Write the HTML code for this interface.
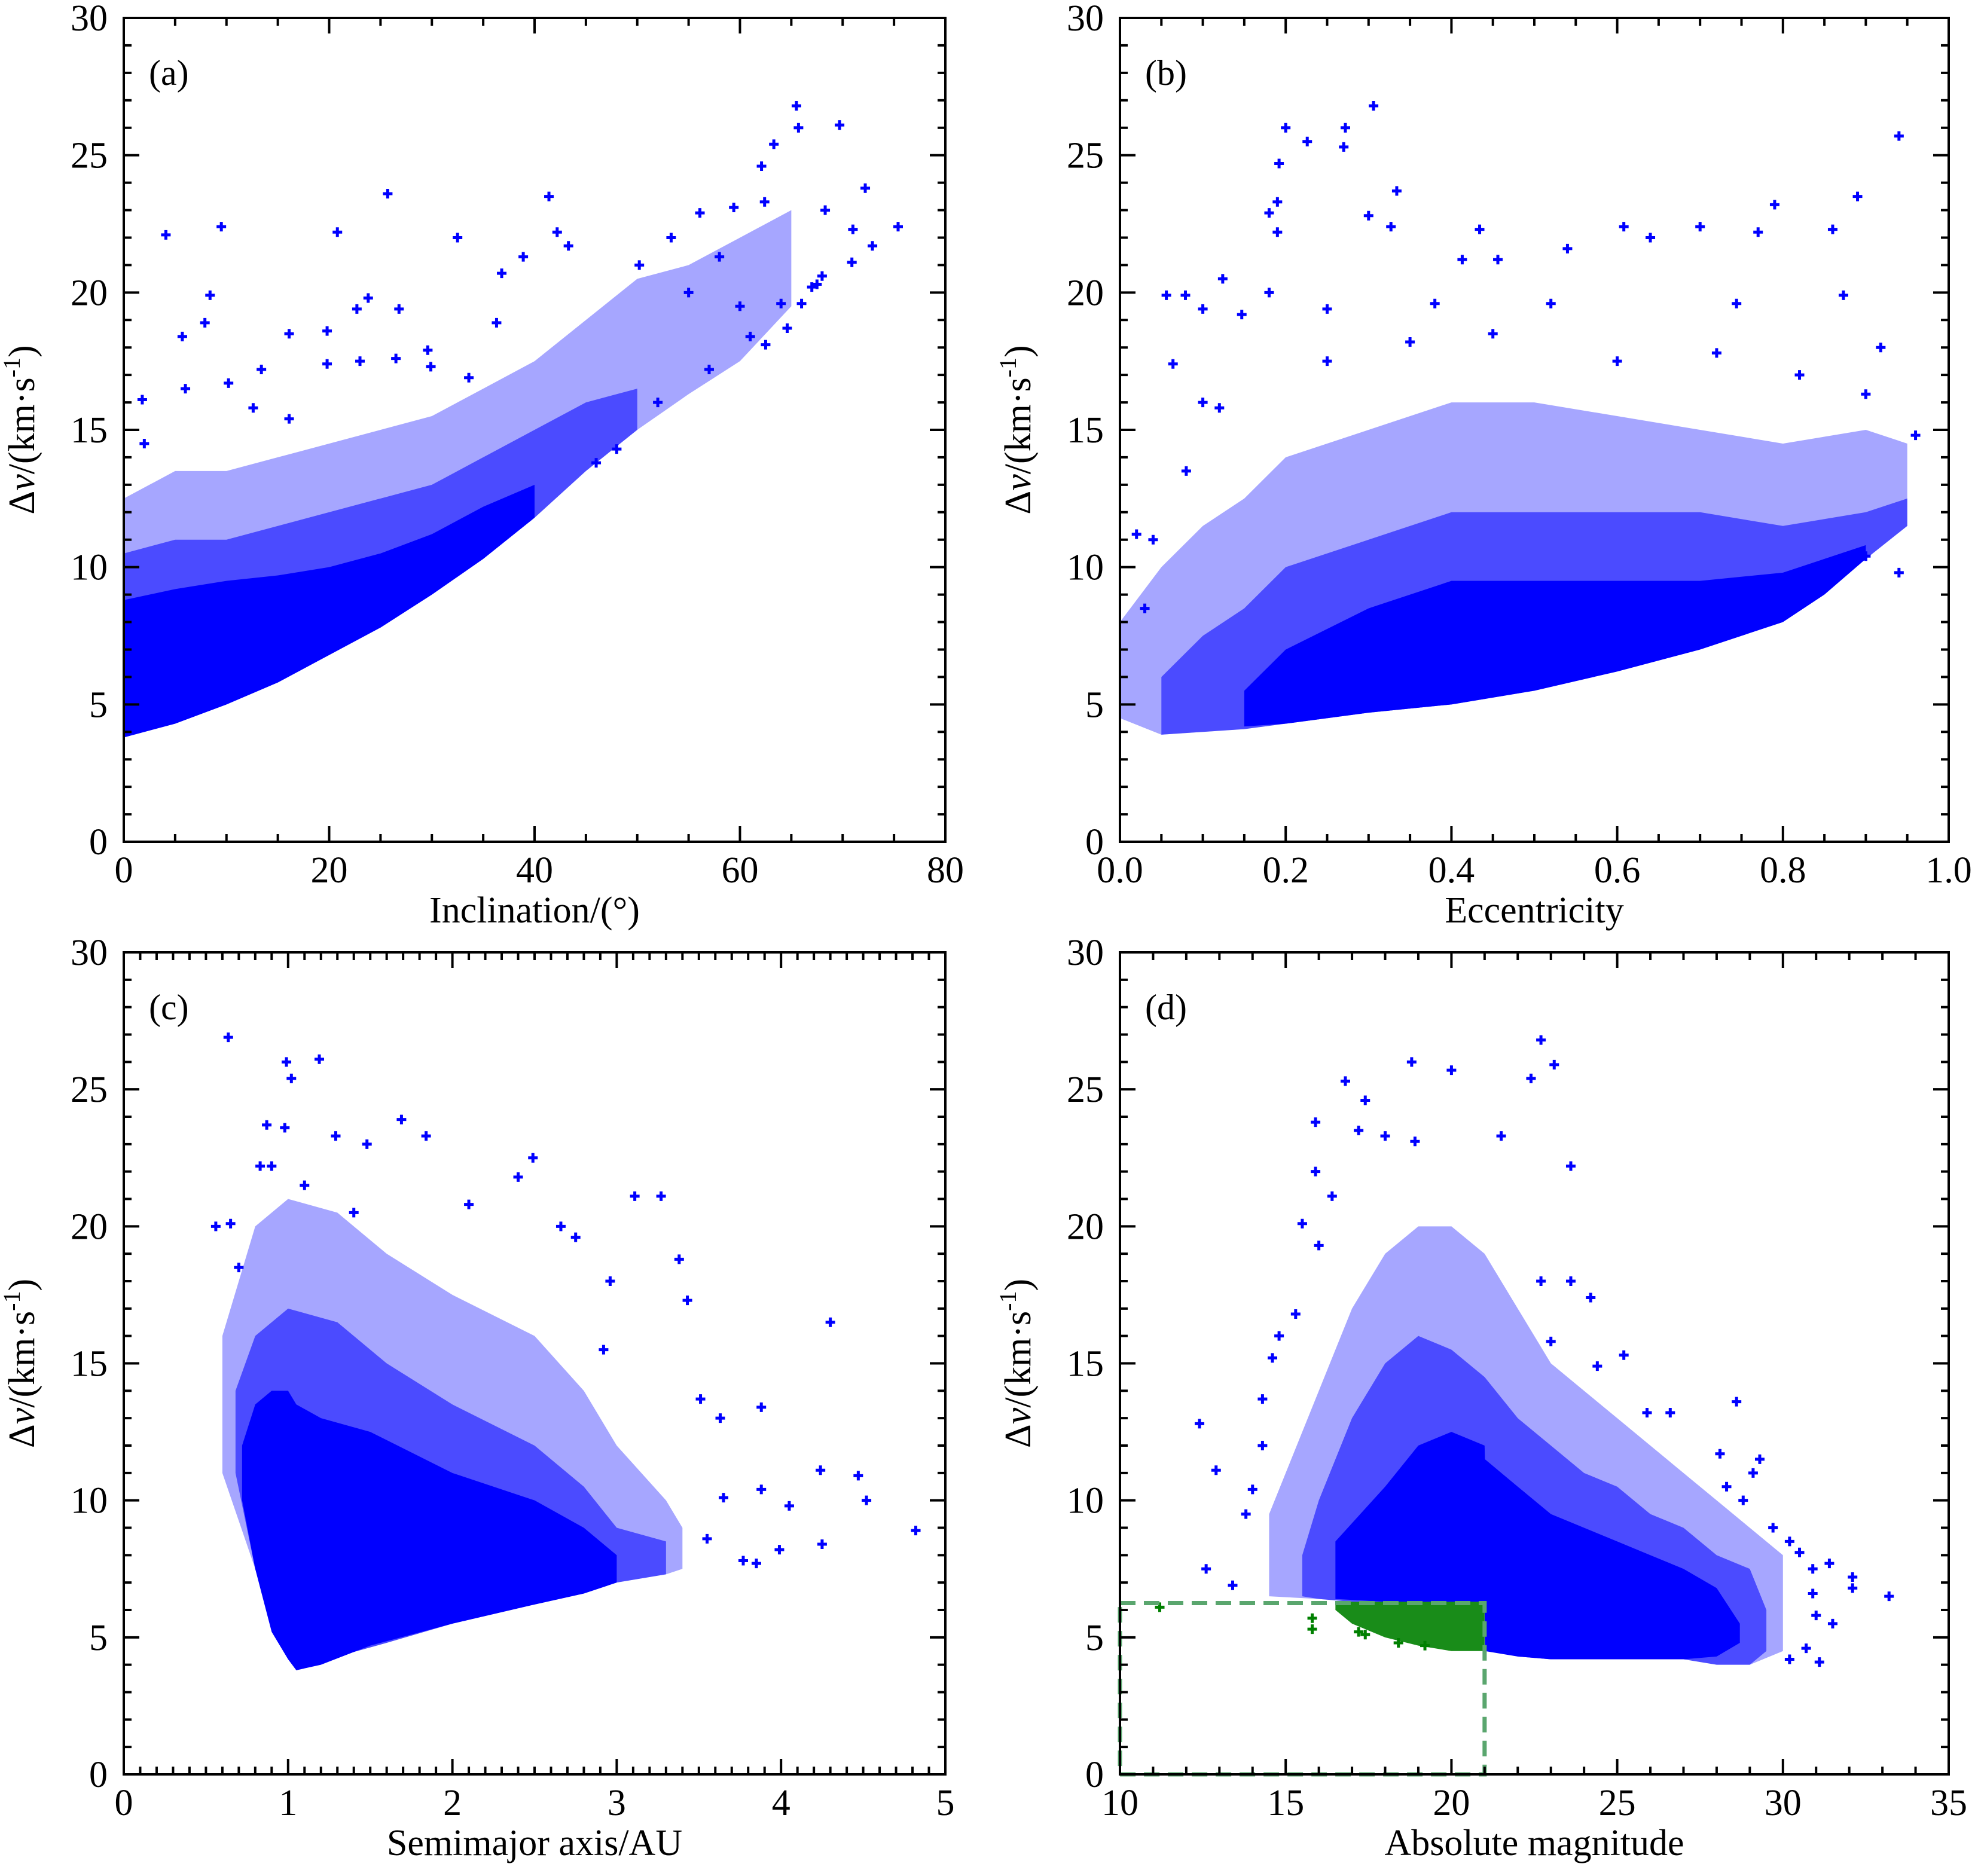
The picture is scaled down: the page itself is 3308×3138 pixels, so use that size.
<!DOCTYPE html>
<html><head><meta charset="utf-8"><style>
html,body{margin:0;padding:0;background:#fff;}
svg text{font-family:"Liberation Serif","Times New Roman",serif;}
</style></head><body>
<svg id="chart" xmlns="http://www.w3.org/2000/svg" width="3308" height="3133" viewBox="0 0 3308 3133" font-family="Liberation Serif, serif"></svg>
<script>
// ---- Panel (a): inclination ----
const aSolidX=[0,5,10,15,20,25,30,35,40];
const aSolidLo=[3.8,4.3,5.0,5.8,6.8,7.8,9.0,10.3,11.8];
const aSolidHi=[8.8,9.2,9.5,9.7,10,10.5,11.2,12.2,13];
const aMidX=[0,5,10,15,20,25,30,35,40,45,50];
const aMidLo=[3.8,4.3,5.0,5.8,6.8,7.8,9.0,10.3,11.8,13.5,15.0];
const aMidHi=[10.5,11,11,11.5,12,12.5,13,14,15,16,16.5];
const aHazeX=[0,5,10,15,20,25,30,35,40,45,50,55,60,65];
const aHazeLo=[3.8,4.3,5,5.8,6.8,7.8,9.0,10.3,11.8,13.5,15.0,16.3,17.5,19.5];
const aHazeHi=[12.5,13.5,13.5,14,14.5,15,15.5,16.5,17.5,19,20.5,21,22,23];
const aPtX=[65.5,65.7,69.7,63.3,62.1,25.7,41.4,72.2,4.1,9.5,20.8,32.5,42.2,75.4,70.9,72.9,59.4,56.1,62.4,53.3,68.3,8.4,7.9,5.7,16.1,19.8,23.8,22.7,26.8,36.3,36.8,38.9,43.3,50.2,66,67,64.6,62.5,10.2,1.8,6,13.4,19.8,23,26.5,29.6,33.6,2,12.6,16.1,29.9,68,71,58,55,60,67.5,64,61,57,52,48,46];
const aPtY=[26.8,26.0,26.1,25.4,24.6,23.6,23.5,23.8,22.1,22.4,22.2,22.0,22.2,22.4,21.1,21.7,23.1,22.9,23.3,22.0,23.0,19.9,18.9,18.4,18.5,18.6,19.8,19.4,19.4,18.9,20.7,21.3,21.7,21.0,19.6,20.2,18.7,18.1,16.7,16.1,16.5,17.2,17.4,17.5,17.6,17.9,16.9,14.5,15.8,15.4,17.3,20.6,22.3,21.3,20.0,19.5,20.3,19.6,18.4,17.2,16.0,14.3,13.8];
// ---- Panel (b): eccentricity ----
const bSolidX=[0.15,0.2,0.3,0.4,0.5,0.6,0.7,0.8,0.85,0.9];
const bSolidLo=[4.2,4.3,4.7,5.0,5.5,6.2,7.0,8.0,9.0,10.3];
const bSolidHi=[5.5,7,8.5,9.5,9.5,9.5,9.5,9.8,10.3,10.8];
const bMidX=[0.05,0.1,0.15,0.2,0.3,0.4,0.5,0.6,0.7,0.8,0.9,0.95];
const bMidLo=[3.9,4.0,4.1,4.3,4.7,5.0,5.5,6.2,7.0,8.0,10.3,11.5];
const bMidHi=[6,7.5,8.5,10,11,12,12,12,12,11.5,12,12.5];
const bHazeX=[0,0.05,0.1,0.15,0.2,0.3,0.4,0.5,0.6,0.7,0.8,0.9,0.95];
const bHazeLo=[4.5,3.9,4.0,4.1,4.3,4.7,5.0,5.5,6.2,7.0,8.0,10.3,11.5];
const bHazeHi=[8,10,11.5,12.5,14,15,16,16,15.5,15,14.5,15,14.5];
const bPtX=[0.94,0.306,0.272,0.226,0.2,0.192,0.19,0.18,0.19,0.27,0.334,0.3,0.327,0.434,0.79,0.89,0.86,0.77,0.7,0.608,0.64,0.54,0.456,0.413,0.056,0.079,0.1,0.124,0.147,0.18,0.25,0.38,0.52,0.744,0.873,0.918,0.064,0.1,0.9,0.96,0.9,0.94,0.45,0.6,0.35,0.72,0.82,0.25,0.02,0.04,0.08,0.12,0.03];
const bPtY=[25.7,26.8,26.0,25.5,26.0,24.7,23.3,22.9,22.2,25.3,23.7,22.8,22.4,22.3,23.2,23.5,22.3,22.2,22.4,22.4,22.0,21.6,21.2,21.2,19.9,19.9,19.4,20.5,19.2,20,19.4,19.6,19.6,19.6,19.9,18.0,17.4,16,16.3,14.8,10.4,9.8,18.5,17.5,18.2,17.8,17.0,17.5,11.2,11.0,13.5,15.8,8.5];
// ---- Panel (c): semimajor axis ----
const cSolidX=[0.72,0.8,0.9,1.0,1.05,1.2,1.5,2.0,2.5,2.8,3.0];
const cSolidLo=[10,7.5,5.2,4.2,3.8,4.0,4.7,5.5,6.2,6.6,7.0];
const cSolidHi=[12,13.5,14,14,13.5,13,12.5,11,10,9,8];
const cMidX=[0.68,0.8,1.0,1.3,1.6,2.0,2.5,2.8,3.0,3.3];
const cMidLo=[11,7.5,4.2,4.3,4.8,5.5,6.2,6.6,7.0,7.3];
const cMidHi=[14,16,17,16.5,15,13.5,12,10.5,9,8.5];
const cHazeX=[0.6,0.8,1.0,1.3,1.6,2.0,2.5,2.8,3.0,3.3,3.4];
const cHazeLo=[11,7.5,4.2,4.3,4.8,5.5,6.2,6.6,7.0,7.3,7.5];
const cHazeHi=[16,20,21,20.5,19,17.5,16,14,12,10,9];
const cPtX=[0.636,0.99,1.02,1.19,0.87,0.98,1.29,1.69,1.84,0.83,0.9,1.48,2.4,2.49,3.11,3.27,0.56,0.65,2.1,2.66,2.75,3.38,2.96,3.43,4.3,2.92,3.51,3.63,3.88,3.65,3.88,4.24,4.47,4.05,4.52,4.82,4.25,3.99,3.55,3.77,3.85,1.1,1.4,0.7];
const cPtY=[26.9,26.0,25.4,26.1,23.7,23.6,23.3,23.9,23.3,22.2,22.2,23.0,21.8,22.5,21.1,21.1,20.0,20.1,20.8,20.0,19.6,18.8,18.0,17.3,16.5,15.5,13.7,13.0,13.4,10.1,10.4,11.1,10.9,9.8,10.0,8.9,8.4,8.2,8.6,7.8,7.7,21.5,20.5,18.5];
// ---- Panel (d): absolute magnitude ----
const dSolidX=[16.5,18,19,20,21,21.01,22,23,24,25,26,27,28,28.7];
const dSolidLo=[6.4,6.3,6.3,6.3,6.3,4.5,4.3,4.2,4.2,4.2,4.2,4.2,4.3,4.8];
const dSolidHi=[8.5,10.5,12,12.5,12,11.5,10.5,9.5,9,8.5,8,7.5,6.8,5.5];
const dMidX=[15.5,16,17,18,19,20,21,22,23,24,25,26,27,28,29,29.5];
const dMidLo=[6.5,6.4,6.3,6.3,6.3,6.3,6.3,4.3,4.2,4.2,4.2,4.2,4.2,4.0,4.0,4.5];
const dMidHi=[8,10,13,15,16,15.5,14.5,13,12,11,10.5,9.5,9,8,7.5,6];
const dHazeX=[14.5,16,17,18,19,20,21,22,23,24,25,26,27,28,29,30];
const dHazeLo=[6.5,6.4,6.3,6.3,6.3,6.3,6.3,4.3,4.2,4.2,4.2,4.2,4.2,4.0,4.0,4.5];
const dHazeHi=[9.5,14,17,19,20,20,19,17,15,14,13,12,11,10,9,8];
const dGreenX=[16.5,17,18,19,20,21];
const dGreenLo=[6.0,5.5,5.0,4.7,4.5,4.5];
const dGreenHi=[6.3,6.3,6.3,6.3,6.3,6.3];
const dGreenPtX=[11.2,15.8,15.8,17.2,17.4,18.4,19.2];
const dGreenPtY=[6.1,5.7,5.3,5.2,5.1,4.8,4.7];
const dPtX=[22.7,23.1,18.8,20.0,22.4,16.8,17.4,15.9,17.2,18.0,18.9,21.5,23.6,15.9,12.4,12.9,12.6,13.4,33.2,32.1,32.1,31.4,31.5,31.1,28.6,29.3,28.1,25.2,26.6,25.9,29.1,28.8,28.3,29.7,30.2,30.5,30.9,30.9,31.0,30.7,30.2,14.3,14.3,14.6,14.8,15.3,15.5,16.0,16.4,23.6,24.2,22.7,23.0,24.4,13.8,14.0];
const dPtY=[26.8,25.9,26.0,25.7,25.4,25.3,24.6,23.8,23.5,23.3,23.1,23.3,22.2,22.0,12.8,11.1,7.5,6.9,6.5,7.2,6.8,7.7,5.5,4.1,13.6,11.5,11.7,15.3,13.2,13.2,11.0,10.0,10.5,9.0,8.5,8.1,7.5,6.6,5.8,4.6,4.2,13.7,12.0,15.2,16.0,16.8,20.1,19.3,21.1,18.0,17.4,18.0,15.8,14.9,9.5,10.4];
const xTicksA=["0","20","40","60","80"];
const xTicksB=["0.0","0.2","0.4","0.6","0.8","1.0"];
const xTicksC=["0","1","2","3","4","5"];
const xTicksD=["10","15","20","25","30","35"];
const yTicks=["0","5","10","15","20","25","30"];

const NS="http://www.w3.org/2000/svg";
const svg=document.getElementById('chart');
const FF='Liberation Serif, serif';
function mk(tag,attrs,parent){const e=document.createElementNS(NS,tag);for(const k in attrs)e.setAttribute(k,attrs[k]);(parent||svg).appendChild(e);return e;}

function panel(cfg){
  const g=mk('g',{});
  
  
  const sx=v=>cfg.L+(v-cfg.x0)/(cfg.x1-cfg.x0)*(cfg.R-cfg.L);
  const sy=v=>cfg.B-(v/30)*(cfg.B-cfg.T);
  const band=(xs,lo,hi,color,op,name)=>{
    let d='M'+xs.map((x,i)=>sx(x)+','+sy(lo[i])).join(' L');
    for(let i=xs.length-1;i>=0;i--) d+=' L'+sx(xs[i])+','+sy(hi[i]);
    const p=mk('path',{d:d+'Z',fill:color,'fill-opacity':op,stroke:'none'},g);
    
    
  };
  const pts=(xs,ys,color,name)=>{
    const pg=mk('g',{stroke:color,'stroke-width':5},g);
    
    
    xs.forEach((x,i)=>{const X=sx(x),Y=sy(ys[i]);
      const p=mk('path',{d:`M${X-8},${Y}H${X+8}M${X},${Y-8}V${Y+8}`},pg);
      
      });
  };
  band(cfg.haze[0],cfg.haze[1],cfg.haze[2],'#0000ff',0.35,'density-haze');
  band(cfg.mid[0],cfg.mid[1],cfg.mid[2],'#0000ff',0.55,'density-mid');
  band(cfg.solid[0],cfg.solid[1],cfg.solid[2],'#0000ff',1,'density-core');
  pts(cfg.px,cfg.py,'#0000ff','scatter-points');
  if(cfg.extra) cfg.extra(g,sx,sy,pts,band);
  const fr=mk('rect',{x:cfg.L,y:cfg.T,width:cfg.R-cfg.L,height:cfg.B-cfg.T,fill:'none',stroke:'#000','stroke-width':4},g);
  
  
  for(let v=0;v<=30;v++){const Y=sy(v);const len=v%5===0?26:13;
    mk('path',{d:`M${cfg.L},${Y}h${len}M${cfg.R},${Y}h${-len}`,stroke:'#000','stroke-width':4},g);}
  yTicks.forEach(t=>{const tx=mk('text',{x:cfg.L-27,y:sy(+t)+21,'text-anchor':'end','font-size':62,'font-family':FF},g);tx.textContent=t;
    
    });
  const nMinor=Math.round((cfg.x1-cfg.x0)/cfg.minor);
  for(let i=0;i<=nMinor;i++){const v=cfg.x0+i*cfg.minor;const X=sx(v);
    const q=(v-cfg.x0)/cfg.major;const major=Math.abs(q-Math.round(q))<1e-6;const len=major?26:13;
    mk('path',{d:`M${X},${cfg.B}v${-len}M${X},${cfg.T}v${len}`,stroke:'#000','stroke-width':4},g);}
  cfg.xt.forEach(t=>{const tx=mk('text',{x:sx(parseFloat(t)),y:cfg.B+68,'text-anchor':'middle','font-size':62,'font-family':FF},g);tx.textContent=t;
    
    });
  const xt=mk('text',{x:(cfg.L+cfg.R)/2,y:cfg.B+135,'text-anchor':'middle','font-size':62,'font-family':FF},g);xt.textContent=cfg.xtitle;
  
  
  const cy=(cfg.T+cfg.B)/2, cx=cfg.L-150;
  const yt=mk('text',{x:cx,y:cy,'text-anchor':'middle','font-size':62,'font-family':FF,transform:`rotate(-90 ${cx} ${cy})`},g);
  yt.innerHTML='Δ<tspan font-style="italic">v</tspan>/(km·s<tspan dy="-24" font-size="40">-1</tspan><tspan dy="24">)</tspan>';
  
  
  const lb=mk('text',{x:cfg.L+42,y:cfg.T+112,'font-size':60,'font-family':FF},g);lb.textContent='('+cfg.id+')';
  
  
}
panel({id:'a',L:207,R:1581,T:30,B:1408,x0:0,x1:80,major:20,minor:5,xt:xTicksA,xtitle:'Inclination/(°)',
  haze:[aHazeX,aHazeLo,aHazeHi],mid:[aMidX,aMidLo,aMidHi],solid:[aSolidX,aSolidLo,aSolidHi],px:aPtX,py:aPtY});
panel({id:'b',L:1873,R:3259,T:30,B:1408,x0:0,x1:1,major:0.2,minor:0.05,xt:xTicksB,xtitle:'Eccentricity',
  haze:[bHazeX,bHazeLo,bHazeHi],mid:[bMidX,bMidLo,bMidHi],solid:[bSolidX,bSolidLo,bSolidHi],px:bPtX,py:bPtY});
panel({id:'c',L:207,R:1581,T:1593,B:2968,x0:0,x1:5,major:1,minor:0.1,xt:xTicksC,xtitle:'Semimajor axis/AU',
  haze:[cHazeX,cHazeLo,cHazeHi],mid:[cMidX,cMidLo,cMidHi],solid:[cSolidX,cSolidLo,cSolidHi],px:cPtX,py:cPtY});
panel({id:'d',L:1873,R:3259,T:1593,B:2968,x0:10,x1:35,major:5,minor:1,xt:xTicksD,xtitle:'Absolute magnitude',
  haze:[dHazeX,dHazeLo,dHazeHi],mid:[dMidX,dMidLo,dMidHi],solid:[dSolidX,dSolidLo,dSolidHi],px:dPtX,py:dPtY,
  extra:(g,sx,sy,pts,band)=>{
    band(dGreenX,dGreenLo,dGreenHi,'#008000',0.9,'selected-region-points');
    pts(dGreenPtX,dGreenPtY,'#008000','selected-points');
    const r=mk('rect',{x:sx(10),y:sy(6.25),width:sx(21)-sx(10),height:sy(0)-sy(6.25),fill:'none',stroke:'#5aa66e','stroke-width':7,'stroke-dasharray':'26 14'},g);
    
    
  }});
</script>
</body></html>
